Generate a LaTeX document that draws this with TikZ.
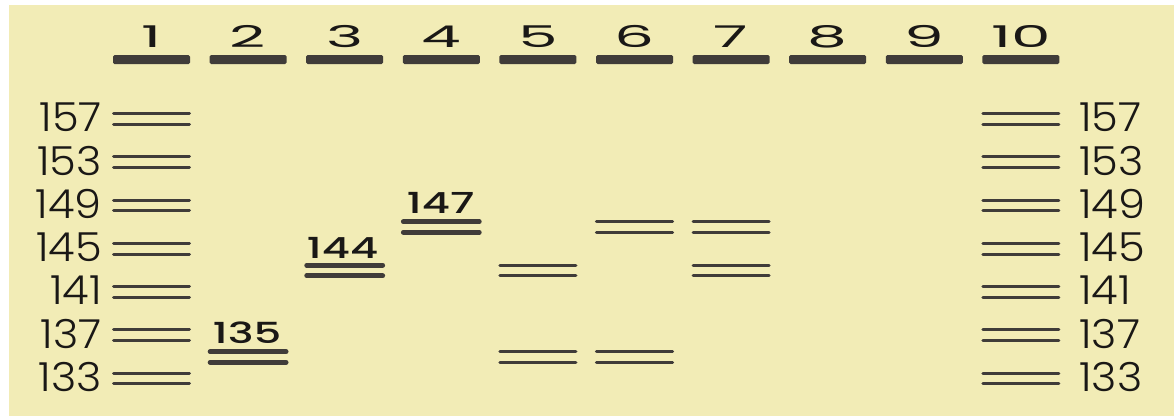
\documentclass[tikz,border=0pt]{standalone}
\usepackage{fontspec}
\setmainfont{Poppins}
\newfontfamily\thinfont{Poppins}[UprightFont=* Light]
\newfontfamily\medfont{Poppins}[UprightFont=* Medium]
\definecolor{gel}{RGB}{242,236,182}
\definecolor{ink}{RGB}{64,60,57}
\definecolor{txt}{RGB}{26,24,22}
\newcommand{\widetxt}[2]{\scalebox{#1}[1]{#2}}
\newcommand{\gelband}[3]{\draw[#1] (#2-38,#3-5.3)--(#2+38,#3-5.3) (#2-38,#3+5.3)--(#2+38,#3+5.3);}
\tikzset{
  well/.style={fill=ink,rounded corners=1.5pt,minimum width=77pt,minimum height=9pt,inner sep=0pt},
  lanenum/.style={inner sep=0pt,anchor=base,text=txt,font=\fontsize{30}{30}\selectfont},
  sizelab/.style={inner sep=0pt,text=txt,font=\thinfont\fontsize{40}{40}\selectfont},
  bandlab/.style={inner sep=0pt,anchor=base,text=txt,font=\medfont\fontsize{29}{29}\selectfont},
  ladder/.style={draw=ink,line width=3pt,line cap=round},
  thin/.style={draw=ink,line width=3.2pt,line cap=round},
  thick/.style={draw=ink,line width=4.8pt,line cap=round}
}
\begin{document}
\begin{tikzpicture}[x=1pt,y=-1pt]
  \useasboundingbox (0,0) rectangle (1174,416);
  \fill[gel] (9,5) rectangle (1174,416);

  % wells with lane numbers
  \foreach \i in {1,...,10}{
    \pgfmathsetmacro{\cx}{151.5+(\i-1)*96.6}
    \node[well] (w\i) at (\cx,59.5) {};
    \node[lanenum] (n\i) at (\cx,47) {\widetxt{2.1}{\i}};
  }

  % size standard in lanes 1 and 10
  \foreach \s [count=\k from 0] in {157,153,149,145,141,137,133}{
    \pgfmathsetmacro{\cy}{119+\k*43.25}
    \node[sizelab,anchor=east] (l\s) at (102,\cy-1.5) {\widetxt{1.08}{\s}};
    \node[sizelab,anchor=west] (r\s) at (1079,\cy-1.5) {\widetxt{1.08}{\s}};
    \gelband{ladder}{151.5}{\cy}
    \gelband{ladder}{1020.9}{\cy}
  }

  % samples
  \gelband{thick}{248.1}{357}
  \node[bandlab] (b135) at (247,343) {\widetxt{1.5}{135}};
  \gelband{thick}{344.7}{270.5}
  \node[bandlab] (b144) at (342.5,258) {\widetxt{1.5}{144}};
  \gelband{thick}{441.3}{227}
  \node[bandlab] (b147) at (440.5,213.5) {\widetxt{1.5}{147}};

  \gelband{thin}{537.9}{270.5}
  \gelband{thin}{537.9}{357}
  \gelband{thin}{634.5}{227}
  \gelband{thin}{634.5}{357}
  \gelband{thin}{731.1}{227}
  \gelband{thin}{731.1}{270.5}
\end{tikzpicture}
\end{document}
